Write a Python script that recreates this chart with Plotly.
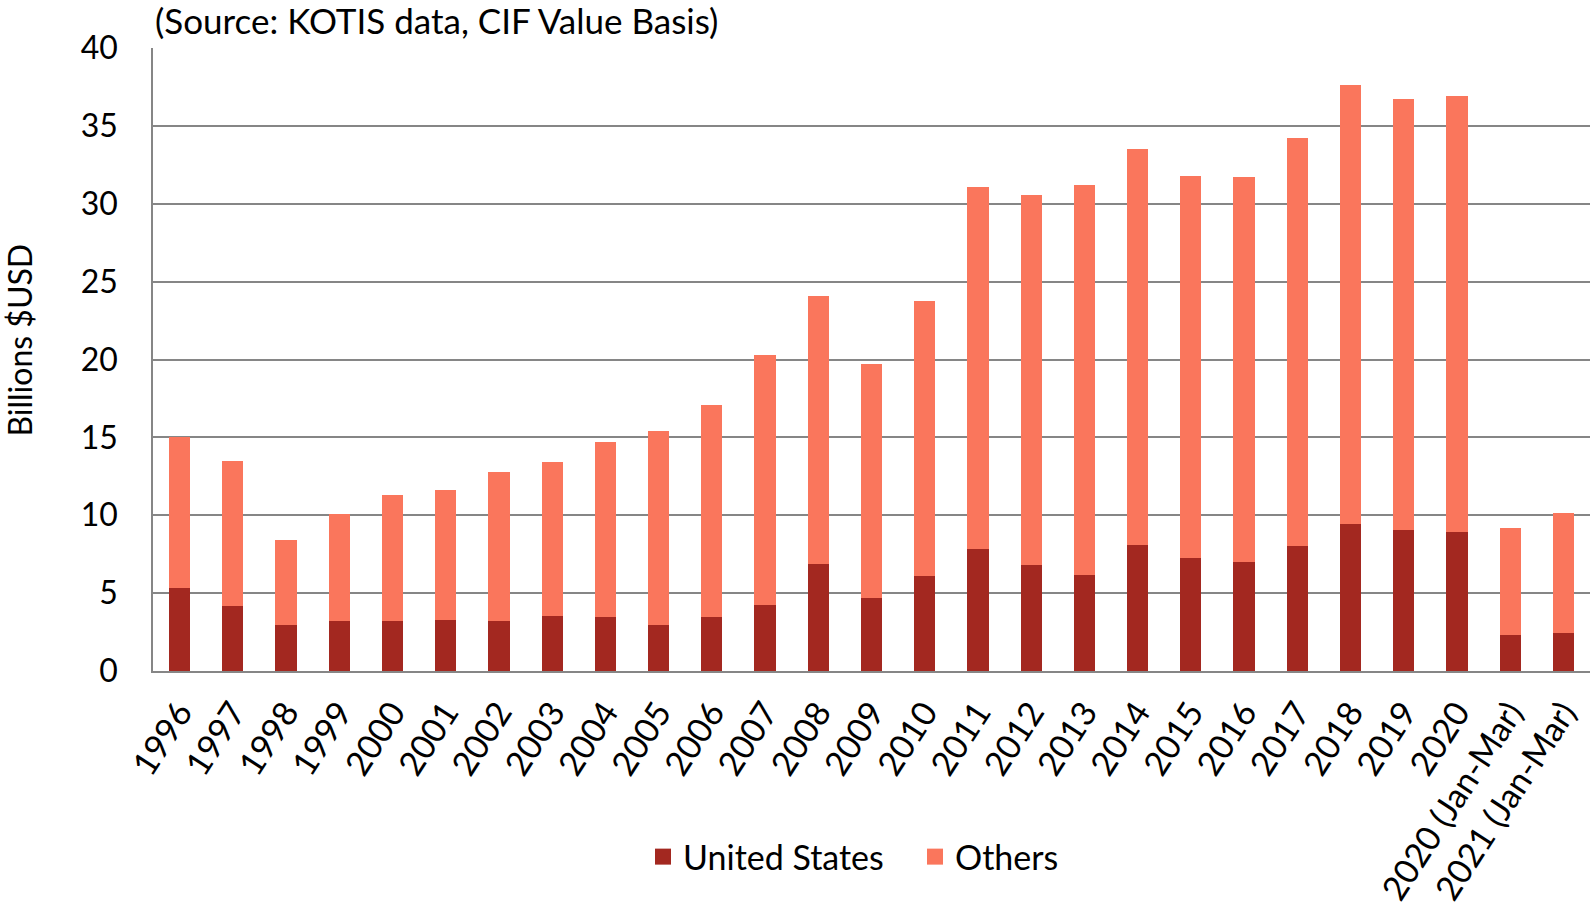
import plotly.graph_objects as go

categories = ["1996", "1997", "1998", "1999", "2000", "2001", "2002", "2003", "2004",
              "2005", "2006", "2007", "2008", "2009", "2010", "2011", "2012", "2013",
              "2014", "2015", "2016", "2017", "2018", "2019", "2020",
              "2020 (Jan-Mar)", "2021 (Jan-Mar)"]
totals = [15.0, 13.5, 8.4, 10.1, 11.3, 11.6, 12.8, 13.4, 14.7,
          15.4, 17.1, 20.3, 24.1, 19.7, 23.75, 31.05, 30.55, 31.2,
          33.5, 31.8, 31.7, 34.25, 37.6, 36.7, 36.95, 9.2, 10.15]
united_states = [5.35, 4.2, 2.98, 3.2, 3.23, 3.29, 3.23, 3.54, 3.48,
                 2.98, 3.48, 4.23, 6.87, 4.68, 6.12, 7.82, 6.79, 6.18,
                 8.1, 7.26, 7.01, 8.04, 9.46, 9.07, 8.91, 2.34, 2.45]
others = [round(t - u, 2) for t, u in zip(totals, united_states)]
y_ticks = [0, 5, 10, 15, 20, 25, 30, 35, 40]

FONT = "Lato, Carlito, Calibri, sans-serif"
US_COLOR = "#A32820"
OTHERS_COLOR = "#FA765C"

fig = go.Figure()
fig.add_trace(go.Bar(x=categories, y=united_states, name="United States", showlegend=False,
                     marker=dict(color=US_COLOR, line=dict(width=0))))
fig.add_trace(go.Bar(x=categories, y=others, name="Others", showlegend=False,
                     marker=dict(color=OTHERS_COLOR, line=dict(width=0))))
# legend entries with larger square swatches
fig.add_trace(go.Scatter(x=[None], y=[None], mode="markers", name="United States",
                         marker=dict(symbol="square", size=20, color=US_COLOR)))
fig.add_trace(go.Scatter(x=[None], y=[None], mode="markers", name="Others",
                         marker=dict(symbol="square", size=20, color=OTHERS_COLOR)))

fig.update_layout(
    width=1594, height=913,
    barmode="stack", bargap=0.6,
    plot_bgcolor="white", paper_bgcolor="white",
    font=dict(family=FONT, size=32, color="black"),
    margin=dict(l=153, r=4, t=48, b=242, autoexpand=False),
    showlegend=True,
    legend=dict(orientation="h", x=0.341, xanchor="left", y=-0.2986, yanchor="middle",
                font=dict(size=34), itemwidth=30, entrywidth=227, entrywidthmode="pixels",
                traceorder="normal"),
    annotations=[
        dict(text="(Source: KOTIS data, CIF Value Basis)", xref="paper", yref="paper",
             x=0.0, y=1.045, xanchor="left", yanchor="middle", showarrow=False,
             font=dict(size=35)),
        dict(text="Billions $USD", xref="paper", yref="paper", x=-0.093, y=0.531,
             xanchor="center", yanchor="middle", textangle=-90, showarrow=False,
             font=dict(size=32)),
    ],
)
fig.update_yaxes(range=[0, 40], tickvals=y_ticks, showgrid=True, gridcolor="#868686",
                 gridwidth=1.5, showline=True, linecolor="#868686", linewidth=1.5,
                 ticks="outside", ticklen=27, tickcolor="rgba(0,0,0,0)", zeroline=False)
fig.update_xaxes(tickangle=-57, showline=True, linecolor="#868686", linewidth=2,
                 ticks="outside", ticklen=6, tickcolor="rgba(0,0,0,0)",
                 tickfont=dict(size=34))

fig.write_html("out.html", config={"displayModeBar": False},
               post_script="document.body.style.margin='0';")
